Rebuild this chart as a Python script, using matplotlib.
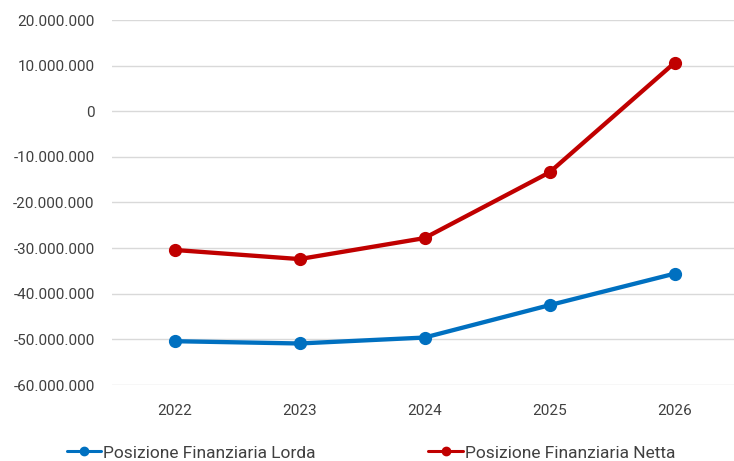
import matplotlib.pyplot as plt
from matplotlib.ticker import FuncFormatter

years = ["2022", "2023", "2024", "2025", "2026"]
lorda = [-50.4e6, -50.9e6, -49.6e6, -42.5e6, -35.6e6]
netta = [-30.4e6, -32.4e6, -27.8e6, -13.4e6, 10.6e6]
labels = ["Posizione Finanziaria Lorda", "Posizione Finanziaria Netta"]
colors = ["#0070C0", "#C00000"]

plt.rcParams['font.family'] = ['Roboto', 'DejaVu Sans']

W, H = 734, 461
fig = plt.figure(figsize=(W / 100, H / 100), dpi=100)
ax = fig.add_axes([112 / W, 1 - 385 / H, (737 - 112) / W, (385 - 20) / H])

x = range(len(years))
for vals, lab, col in zip([lorda, netta], labels, colors):
    ax.plot(x, vals, color=col, lw=3.1, marker='o', markersize=8.5,
            label=lab, solid_capstyle='round')

ax.set_xlim(-0.5, len(years) - 0.5)
ax.set_ylim(-60e6, 20e6)
ax.set_yticks(range(-60000000, 20000001, 10000000))
ax.yaxis.set_major_formatter(FuncFormatter(lambda v, p: f"{int(v):,}".replace(",", ".")))
ax.set_xticks(list(x))
ax.set_xticklabels(years)
ax.tick_params(length=0, labelsize=11, colors="#404040")
ax.tick_params(axis='y', pad=12.5)
ax.tick_params(axis='x', pad=14)
ax.grid(axis='y', color="#d9d9d9", lw=1)
ax.set_axisbelow(True)
for s in ax.spines.values():
    s.set_visible(False)

leg = fig.legend(loc='center', bbox_to_anchor=(371 / W, 1 - 453 / H), ncol=2,
                 frameon=False, fontsize=12.5, columnspacing=6.5, handlelength=2.0,
                 handletextpad=0.1, labelcolor="#404040")
for ln in leg.get_lines():
    ln.set_linewidth(2.2)
    ln.set_markersize(6)

fig.savefig("out.png", dpi=100)
